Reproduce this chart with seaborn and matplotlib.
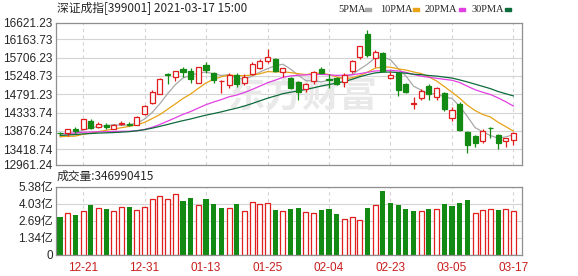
import numpy as np
import pandas as pd
import matplotlib
matplotlib.use("Agg")
import matplotlib.pyplot as plt
import seaborn as sns
from matplotlib.patches import Rectangle

# ---------------- data ----------------
title_text = "深证成指[399001] 2021-03-17 15:00"
volume_title = "成交量:346990415"
watermark = "东方财富"

ma_names = ["5PMA", "10PMA", "20PMA", "30PMA"]
ma_windows = [5, 10, 20, 30]

opens = [13834, 13817, 13934, 13926, 14125, 13984, 14034, 13934, 14059, 14059,
         14034, 14300, 14566, 14799, 15290, 15232, 15423, 15373, 15082, 15523,
         15315, 15115, 15024, 15273, 15065, 15290, 15440, 15614, 15673, 15357,
         15207, 15090, 14916, 15124, 15415, 15174, 15190, 15107, 15373, 15731,
         16288, 15690, 15820, 15198, 15332, 15049, 14550, 14691, 15007, 14732,
         14832, 14200, 14550, 13859, 13759, 13634, 13959, 13776, 13626, 13651]
highs = [13859, 13934, 13975, 14183, 14167, 14092, 14084, 14050, 14134, 14109,
         14258, 14525, 14899, 15190, 15332, 15382, 15465, 15440, 15481, 15606,
         15357, 15149, 15332, 15332, 15290, 15606, 15664, 15914, 15689, 15456,
         15232, 15124, 15065, 15373, 15481, 15290, 15232, 15315, 15648, 16006,
         16397, 15897, 15850, 15382, 15357, 15065, 14732, 14915, 15040, 14982,
         14857, 14483, 14608, 13876, 13776, 13926, 13967, 13801, 13701, 13859]
lows = [13784, 13751, 13834, 13917, 13934, 13959, 13926, 13917, 14017, 14000,
        14017, 14283, 14550, 14791, 15040, 15132, 15232, 15065, 15065, 15315,
        15082, 14816, 14941, 14982, 15024, 15273, 15415, 15581, 15357, 15232,
        14916, 14649, 14857, 15040, 15290, 14957, 15024, 14982, 15315, 15673,
        15730, 15481, 15350, 15182, 14749, 14832, 14416, 14649, 14649, 14649,
        14383, 14134, 13884, 13335, 13485, 13568, 13693, 13435, 13485, 13526]
closes = [13817, 13917, 13884, 14167, 13959, 14042, 13975, 14034, 14067, 14034,
          14233, 14508, 14849, 15165, 15273, 15365, 15340, 15165, 15465, 15398,
          15149, 15132, 15273, 15040, 15232, 15548, 15631, 15714, 15382, 15440,
          14941, 14857, 15040, 15357, 15315, 15149, 15049, 15273, 15631, 15985,
          15785, 15840, 15380, 15273, 14899, 14857, 14566, 14882, 14791, 14957,
          14416, 14400, 13901, 13526, 13568, 13876, 13942, 13568, 13693, 13834]
# estimated closes of the 29 sessions before the window (moving-average warm-up)
prior_closes = [13520, 13610, 13700, 13650, 13720, 13790, 13810, 13750, 13680, 13600,
                13650, 13720, 13800, 13870, 13900, 13950, 13920, 13980, 14000, 13950,
                13880, 13800, 13720, 13650, 13700, 13620, 13750, 13700, 13730]

volume_yi = [2.99, 3.30, 3.14, 3.45, 3.92, 3.66, 3.59, 3.43, 3.74, 3.74,
             3.51, 3.74, 4.36, 4.60, 4.36, 4.75, 4.23, 4.44, 3.92, 4.36,
             4.00, 3.66, 3.66, 4.00, 3.43, 4.13, 3.97, 4.05, 3.51, 3.43,
             3.59, 3.66, 3.35, 3.30, 3.51, 3.59, 3.20, 2.81, 2.94, 2.78,
             3.66, 3.92, 4.99, 4.05, 3.92, 3.59, 3.43, 3.43, 3.59, 3.59,
             4.00, 3.82, 4.05, 4.29, 3.27, 3.51, 3.64, 3.51, 3.59, 3.4699]
volume_up = [0, 1, 0, 1, 0, 1, 0, 1, 1, 0,
             1, 1, 1, 1, 1, 1, 0, 0, 1, 0,
             0, 0, 1, 0, 1, 1, 1, 1, 0, 1,
             0, 0, 1, 1, 0, 0, 0, 1, 1, 1,
             0, 1, 0, 0, 0, 0, 0, 1, 0, 1,
             0, 0, 0, 0, 1, 1, 1, 0, 1, 1]

date_ticks = [3, 11, 19, 27, 35, 43, 51, 59]
date_labels = ["12-21", "12-31", "01-13", "01-25", "02-04", "02-23", "03-05", "03-17"]
price_ticks = [16163.73, 15706.23, 15248.73, 14791.23, 14333.74, 13876.24, 13418.74]
price_top_label = "16621.23"
price_bottom_label = "12961.24"
volume_ticks = [0, 1.345, 2.69, 4.035, 5.38]
volume_labels = ["0", "1.34亿", "2.69亿", "4.03亿", "5.38亿"]

# ---------------- style / layout ----------------
RED = "#e01e1e"
GREEN = "#138a13"
MA_COLORS = ["#a8a8a8", "#e8a317", "#e23fe2", "#0d6b3c"]
GRID = "#d4d4d4"
SPINE = "#8f8f8f"
TICK_RED = "#c81e1e"

W, H = 578, 276
PRICE_LIM = (13039.5, 16578.8)
XLIM = (-0.52, 60.11)
BODY_W = 0.66

sns.set_style("white")
plt.rcParams["font.family"] = ["Liberation Sans", "Noto Sans CJK SC", "DejaVu Sans"]

fig = plt.figure(figsize=(W / 100, H / 100), dpi=100)


def rect(l, t, r, b):
    return [l / W, 1 - b / H, (r - l) / W, (b - t) / H]


ax = fig.add_axes(rect(56, 22.7, 522, 164.5))
axv = fig.add_axes(rect(56, 186.5, 522, 254.8))

n = len(closes)
x = np.arange(n)
o = np.array(opens, float)
c = np.array(closes, float)
hi = np.array(highs, float)
lo = np.array(lows, float)
rise = c >= o
body_lo = np.minimum(o, c)
body_h = np.maximum(np.maximum(o, c) - body_lo, 10)
cols = np.where(rise, RED, GREEN)

# watermark
ax.text(0.53, 0.48, watermark, transform=ax.transAxes, ha="center", va="center",
        fontsize=27, fontweight="bold", color="#e9e9e9",
        family=["Noto Sans CJK SC"], zorder=1)

# moving averages
all_close = pd.Series(prior_closes + closes, dtype=float)
k = len(prior_closes)
ma_df = pd.DataFrame({name: all_close.rolling(w).mean().iloc[k:].to_numpy()
                      for name, w in zip(ma_names, ma_windows)})
ma_df["idx"] = x
ma_long = ma_df.melt("idx", var_name="MA", value_name="val")
sns.lineplot(data=ma_long, x="idx", y="val", hue="MA", hue_order=ma_names,
             palette=dict(zip(ma_names, MA_COLORS)), lw=0.9, legend=False,
             ax=ax, zorder=2)

# candles
ax.vlines(x, lo, body_lo, colors=cols, lw=0.9, zorder=3)
ax.vlines(x, body_lo + body_h, hi, colors=cols, lw=0.9, zorder=3)
ax.bar(x, body_h, bottom=body_lo, width=BODY_W,
       color=np.where(rise, "white", cols), edgecolor=cols, linewidth=0.9, zorder=4)

ax.set_xlim(*XLIM)
ax.set_ylim(*PRICE_LIM)
ax.set_xticks(date_ticks)
ax.set_yticks([PRICE_LIM[1]] + price_ticks + [PRICE_LIM[0]])
ax.set_yticklabels([price_top_label] + [f"{v:.2f}" for v in price_ticks] + [price_bottom_label])
ax.tick_params(axis="x", labelbottom=False, length=0)
ax.tick_params(axis="y", length=0, pad=2.5, labelsize=8.5)
ax.yaxis.grid(True, color=GRID, lw=0.8, ls="-")
ax.xaxis.grid(True, color=GRID, lw=0.8, ls=(0, (3, 3)))
ax.set_axisbelow(True)
ax.set_xlabel("")
ax.set_ylabel("")
for s in ax.spines.values():
    s.set_color(SPINE)
    s.set_linewidth(0.9)

# volume
vdf = pd.DataFrame({"idx": x, "vol": volume_yi, "up": np.array(volume_up, bool)})
sns.barplot(data=vdf[~vdf["up"]], x="idx", y="vol", native_scale=True, width=BODY_W,
            color=GREEN, saturation=1, errorbar=None, ax=axv, linewidth=0)
sns.barplot(data=vdf[vdf["up"]], x="idx", y="vol", native_scale=True, width=BODY_W,
            color="white", edgecolor=RED, saturation=1, errorbar=None, ax=axv,
            linewidth=0.9)
axv.set_xlim(*XLIM)
axv.set_ylim(0, volume_ticks[-1])
axv.set_xticks(date_ticks)
axv.set_xticklabels(date_labels)
axv.set_yticks(volume_ticks)
axv.set_yticklabels(volume_labels)
axv.tick_params(axis="x", length=0, pad=5, labelsize=8.5, labelcolor=TICK_RED)
axv.tick_params(axis="y", length=0, pad=2, labelsize=8.5)
axv.yaxis.grid(True, color=GRID, lw=0.8, ls="-")
axv.xaxis.grid(True, color=GRID, lw=0.8, ls=(0, (3, 3)))
axv.set_axisbelow(True)
axv.set_xlabel("")
axv.set_ylabel("")
for s in axv.spines.values():
    s.set_color(SPINE)
    s.set_linewidth(0.9)

# header texts
fig.text(57 / W, 1 - 8.5 / H, title_text, fontsize=8.5, va="center", ha="left",
         family=["Noto Sans CJK SC", "DejaVu Sans"])
fig.text(57 / W, 1 - 176.5 / H, volume_title, fontsize=8.5, va="center", ha="left",
         family=["Noto Sans CJK SC", "DejaVu Sans"])

# legend
legend_text_x = [338, 380, 425, 472]
legend_swatch_x = [365, 413, 459, 505]
for name, col, tx, sx in zip(ma_names, MA_COLORS, legend_text_x, legend_swatch_x):
    fig.text(tx / W, 1 - 9.5 / H, name, fontsize=7.5, va="center", ha="left",
             family=["Liberation Serif"])
    fig.add_artist(Rectangle((sx / W, 1 - 11 / H), 6 / W, 3 / H,
                             transform=fig.transFigure, color=col))

fig.savefig("out.png", dpi=100)
